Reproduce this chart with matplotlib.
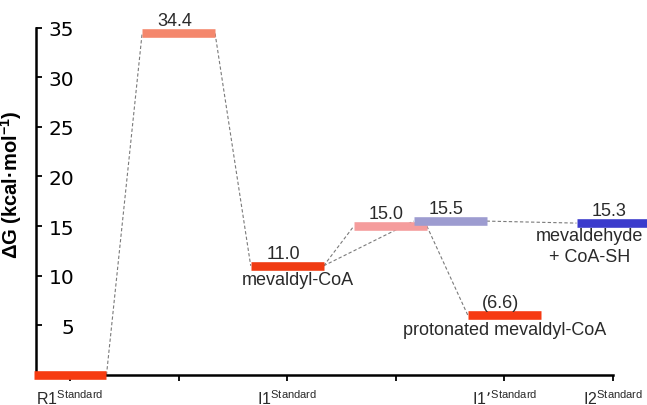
"""Free energy profile: R1 -> TS -> I1 -> I1' / I2"""
import numpy as np
from matplotlib import pyplot as plt

# energy levels (kcal/mol), in drawing order
levels = [0.0, 34.4, 11.0, 15.0, 15.5, 6.0, 15.3]
value_labels = ["", "34.4", "11.0", "15.0", "15.5", "(6.6)", "15.3"]
level_colors = ["#f63b10", "#f4876c", "#f03b12", "#f59c9c", "#9d9cd0", "#f63a12", "#3b3bcc"]
# position of each level along the reaction coordinate
positions = [0, 1, 2, 2.95, 3.5, 4, 5]
# dashed connections between levels (from, to)
links = [(0, 1), (1, 2), (2, 3), (2, 4), (3, 5), (4, 6)]

tick_names = ["R1", "", "I1", "", "I1\u2019", "I2"]
y_ticks = [5, 10, 15, 20, 25, 30, 35]

if __name__ == "__main__":
    plt.rcParams["font.family"] = ["Liberation Sans", "DejaVu Sans"]

    fig = plt.figure(figsize=(6.47, 4.06), dpi=100)
    ax = fig.add_axes([36 / 647, 30 / 406, 577 / 647, 347.5 / 406])
    ax.set_xlim(-0.313, 5)
    ax.set_ylim(0, 35)

    half = 0.336
    for a, b in links:
        ax.plot(
            [positions[a] + half, positions[b] - half],
            [levels[a], levels[b]],
            color="#7a7a7a",
            linewidth=0.8,
            linestyle=(0, (3, 2)),
            zorder=2,
            clip_on=False,
        )

    for x, y, c, lab in zip(positions, levels, level_colors, value_labels):
        ax.hlines(y, x - half, x + half, color=c, linewidth=6.2, zorder=5, clip_on=False)
        if lab:
            ax.annotate(
                lab, (x, y), xytext=(-3, 3), textcoords="offset points",
                ha="center", va="bottom", fontsize=13, color="#2a2a2a", zorder=6,
            )

    text_kw = dict(fontsize=13, color="#2a2a2a", ha="center", va="top", zorder=6)
    ax.annotate("mevaldyl-CoA", (positions[2], levels[2]), xytext=(8, -4),
                textcoords="offset points", **text_kw)
    ax.annotate("protonated mevaldyl-CoA", (positions[5], levels[5]), xytext=(0, -4),
                textcoords="offset points", **text_kw)
    ax.annotate("mevaldehyde\n+ CoA-SH", (positions[6], levels[6]), xytext=(-17, -3),
                textcoords="offset points", linespacing=1.3, annotation_clip=False, **text_kw)

    ax.spines["top"].set_visible(False)
    ax.spines["right"].set_visible(False)
    ax.spines["left"].set_linewidth(1.8)
    ax.spines["bottom"].set_linewidth(1.8)

    ax.set_yticks(y_ticks)
    ax.set_yticklabels([str(t) for t in y_ticks], fontsize=14.5, family="DejaVu Sans")
    ax.tick_params(axis="y", direction="in", length=4.5, width=1.3, pad=-27.5)

    ax.set_xticks(range(len(tick_names)))
    ax.set_xticklabels(
        [n + r"$^{\mathregular{Standard}}$" if n else "" for n in tick_names],
        fontsize=11.5, color="#2a2a2a",
    )
    ax.tick_params(axis="x", direction="out", length=4.5, width=1.3, pad=5)

    ax.set_ylabel(r"ΔG (kcal·mol$^{\mathregular{-1}}$)", fontsize=14.5, fontweight="bold",
                  labelpad=2)
    ax.yaxis.set_label_coords(-0.02, 0.55)

    fig.savefig("out.png", dpi=100)
